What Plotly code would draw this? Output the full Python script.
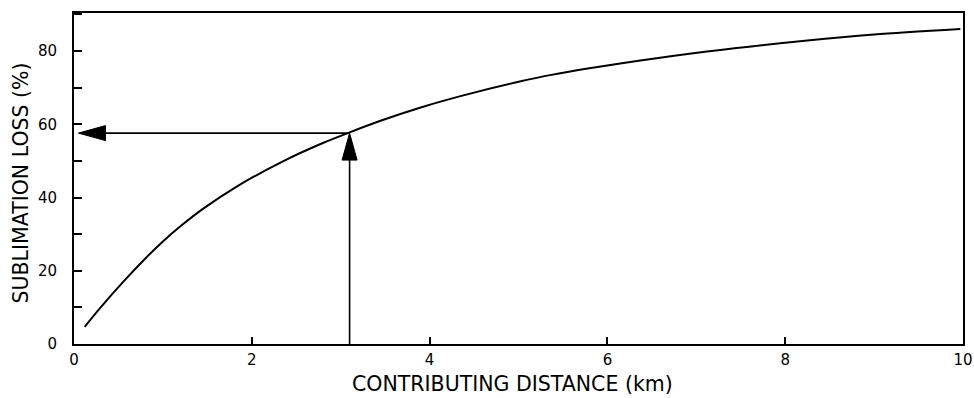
import plotly.graph_objects as go

# Curve data
distance_km = [0.12, 0.30, 0.55, 0.80, 1.00, 1.20, 1.45, 1.83, 2.35, 2.80, 3.10, 3.44, 3.90, 4.38, 5.00, 5.37, 6.37, 7.12, 8.25, 9.00, 9.97]
loss_pct = [4.7, 10.0, 16.9, 23.3, 28.0, 32.2, 36.9, 43.0, 49.9, 54.9, 57.8, 60.9, 64.6, 67.9, 71.6, 73.5, 77.4, 79.9, 82.9, 84.5, 86.0]

# Read-off arrows
read_distance = 3.1
read_loss = 57.6
arrow_end_x = 0.05

x_ticks = [0, 2, 4, 6, 8, 10]
y_ticks = [0, 20, 40, 60, 80]

x_title = "CONTRIBUTING DISTANCE (km)"
y_title = "SUBLIMATION LOSS (%)"

X_RANGE = [0, 10]
Y_RANGE = [0, 90.4]

W, H = 974, 398
M = dict(l=74, r=11, t=13, b=54)
px_per_x = (W - M["l"] - M["r"]) / (X_RANGE[1] - X_RANGE[0])
px_per_y = (H - M["t"] - M["b"]) / (Y_RANGE[1] - Y_RANGE[0])

head_len_px = 27
head_half_px = 7.5

FONT = "DejaVu Sans"
TITLE_SIZE = 20.5

fig = go.Figure()

fig.add_trace(go.Scatter(
    x=distance_km, y=loss_pct, mode="lines",
    line=dict(color="black", width=2, shape="spline", smoothing=0.8),
    hoverinfo="skip", showlegend=False))

# horizontal arrow shaft
hx_base = arrow_end_x + head_len_px / px_per_x
fig.add_trace(go.Scatter(
    x=[read_distance, hx_base], y=[read_loss, read_loss], mode="lines",
    line=dict(color="black", width=1.6), hoverinfo="skip", showlegend=False))
# horizontal arrowhead
dy = head_half_px / px_per_y
fig.add_trace(go.Scatter(
    x=[arrow_end_x, hx_base, hx_base, arrow_end_x],
    y=[read_loss, read_loss + dy, read_loss - dy, read_loss],
    mode="lines", fill="toself", fillcolor="black",
    line=dict(color="black", width=1), hoverinfo="skip", showlegend=False))

# vertical arrow shaft
vy_base = read_loss - head_len_px / px_per_y
fig.add_trace(go.Scatter(
    x=[read_distance, read_distance], y=[Y_RANGE[0], vy_base], mode="lines",
    line=dict(color="black", width=1.6), hoverinfo="skip", showlegend=False))
dx = head_half_px / px_per_x
fig.add_trace(go.Scatter(
    x=[read_distance, read_distance - dx, read_distance + dx, read_distance],
    y=[read_loss, vy_base, vy_base, read_loss],
    mode="lines", fill="toself", fillcolor="black",
    line=dict(color="black", width=1), hoverinfo="skip", showlegend=False))

fig.update_layout(
    width=W, height=H, margin=M,
    paper_bgcolor="white", plot_bgcolor="white",
    font=dict(family=FONT, color="black"),
    showlegend=False,
    annotations=[
        dict(text=x_title, xref="paper", yref="paper", x=0.5, y=0,
             xanchor="center", yanchor="bottom", xshift=-6, yshift=-54,
             showarrow=False, font=dict(family=FONT, size=TITLE_SIZE)),
        dict(text=y_title, xref="paper", yref="paper", x=0, y=0.5,
             xanchor="center", yanchor="middle", xshift=-54, yshift=-5,
             textangle=-90, showarrow=False, font=dict(family=FONT, size=TITLE_SIZE)),
    ],
)

fig.update_xaxes(
    range=X_RANGE, tickvals=x_ticks, ticktext=[str(v) for v in x_ticks],
    ticks="inside", ticklen=7, tickwidth=1.5, tickcolor="black",
    showline=True, linewidth=2, linecolor="black", mirror=True,
    showgrid=False, zeroline=False, automargin=False,
    tickfont=dict(family=FONT, size=15),
    ticklabelstandoff=1,
)
fig.update_yaxes(
    range=Y_RANGE, tickvals=y_ticks, ticktext=[str(v) for v in y_ticks],
    ticks="inside", ticklen=8, tickwidth=1.5, tickcolor="black",
    minor=dict(dtick=10, tick0=0, ticks="inside", ticklen=8, tickwidth=1.5, tickcolor="black", showgrid=False),
    showline=True, linewidth=2, linecolor="black", mirror=True,
    showgrid=False, zeroline=False, automargin=False,
    tickfont=dict(family=FONT, size=15),
    ticklabelstandoff=12,
)

fig.write_html("out.html")
